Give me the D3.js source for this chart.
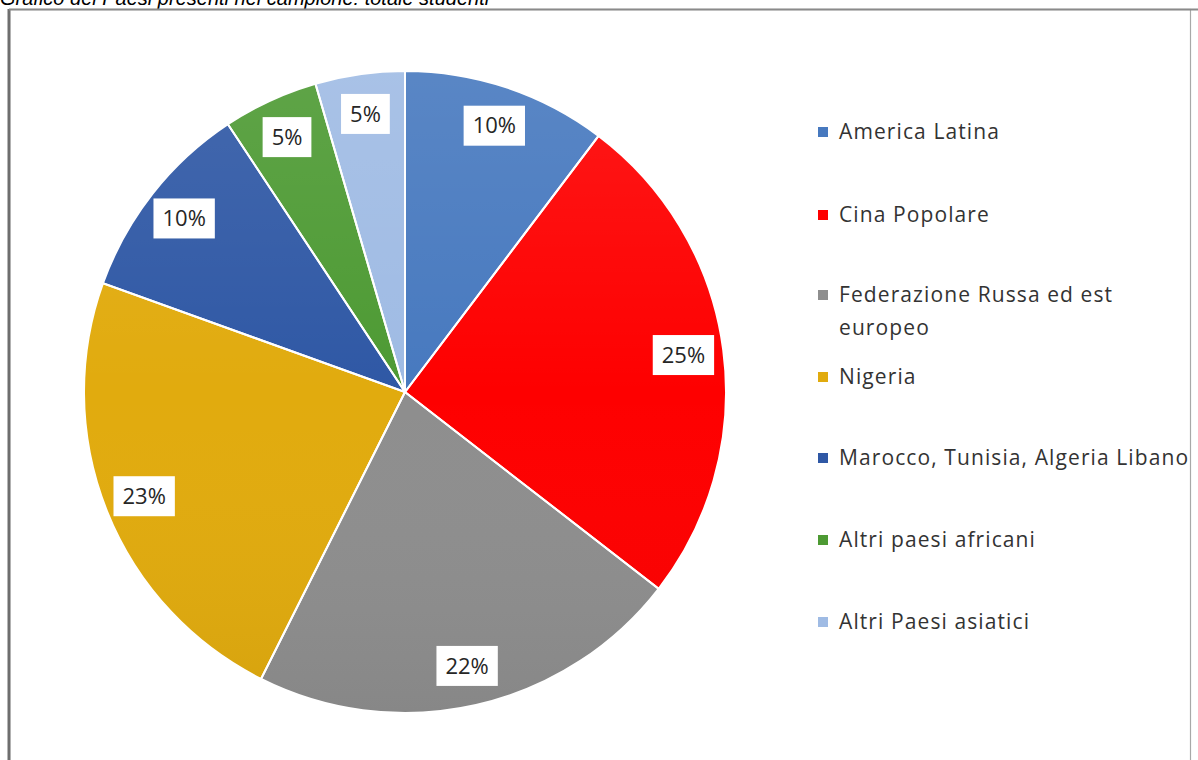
<!DOCTYPE html>
<html>
<head>
<meta charset="utf-8">
<script src="https://cdn.jsdelivr.net/npm/d3@7"></script>
<style>
  html, body { margin: 0; padding: 0; background: #ffffff; }
  svg { display: block; }
</style>
</head>
<body>
<svg id="chart" width="1198" height="760"></svg>
<script>
// ---- data ----
const categories = [
  "America Latina",
  "Cina Popolare",
  "Federazione Russa ed est europeo",
  "Nigeria",
  "Marocco, Tunisia, Algeria Libano",
  "Altri paesi africani",
  "Altri Paesi asiatici"
];
const values = [10.3, 25.2, 21.9, 23.1, 10.2, 4.8, 4.5];
const legendLines = [
  ["America Latina"],
  ["Cina Popolare"],
  ["Federazione Russa ed est", "europeo"],
  ["Nigeria"],
  ["Marocco, Tunisia, Algeria Libano"],
  ["Altri paesi africani"],
  ["Altri Paesi asiatici"]
];
const captionText = "Grafico dei Paesi presenti nel campione: totale studenti";

// ---- styles ----
const colors = ["#4779bf", "#fe0000", "#8e8e8e", "#e1ab0e", "#2f58a5", "#4d9a33", "#9fbbe4"];

const svg = d3.select("#chart");
const W = 1198, H = 760;

// clipped caption at top (partly outside the picture, as in the reference)
svg.append("text")
  .attr("x", 0).attr("y", 5)
  .attr("font-family", "Liberation Sans, sans-serif")
  .attr("font-style", "italic")
  .attr("font-size", 20)
  .attr("fill", "#000")
  .text(captionText);

// chart frame
svg.append("rect")
  .attr("x", 9.5).attr("y", 9.5)
  .attr("width", 1181).attr("height", 780)
  .attr("fill", "#ffffff")
  .attr("stroke", "#a8a8a8").attr("stroke-width", 1.2);
svg.append("line")
  .attr("x1", 9).attr("x2", 9).attr("y1", 9).attr("y2", H)
  .attr("stroke", "#6e6e6e").attr("stroke-width", 3);
svg.append("line")
  .attr("x1", 9).attr("x2", W).attr("y1", 9.5).attr("y2", 9.5)
  .attr("stroke", "#8a8a8a").attr("stroke-width", 2);

// pie
const cx = 405, cy = 392, R = 321;
const pie = d3.pie().sort(null).value(d => d)(values);
const arc = d3.arc().innerRadius(0).outerRadius(R);
const labelArc = d3.arc().innerRadius(R * 0.875).outerRadius(R * 0.875);

const defs = svg.append("defs");
const grad = defs.append("linearGradient").attr("id", "shade")
  .attr("x1", 0).attr("y1", 0).attr("x2", 0).attr("y2", 1);
grad.append("stop").attr("offset", "0%").attr("stop-color", "#ffffff").attr("stop-opacity", 0.10);
grad.append("stop").attr("offset", "50%").attr("stop-color", "#ffffff").attr("stop-opacity", 0.0);
grad.append("stop").attr("offset", "100%").attr("stop-color", "#000000").attr("stop-opacity", 0.05);

const g = svg.append("g").attr("transform", `translate(${cx},${cy})`);
g.selectAll("path.slice")
  .data(pie)
  .join("path")
  .attr("class", "slice")
  .attr("d", arc)
  .attr("fill", (d, i) => colors[i]);

g.append("circle").attr("r", R).attr("fill", "url(#shade)");

g.selectAll("path.border")
  .data(pie)
  .join("path")
  .attr("class", "border")
  .attr("d", arc)
  .attr("fill", "none")
  .attr("stroke", "#ffffff")
  .attr("stroke-width", 2);

// data labels
const fmt = v => Math.round(v) + "%";
const lbl = g.selectAll("g.lbl")
  .data(pie)
  .join("g")
  .attr("class", "lbl")
  .attr("transform", d => `translate(${labelArc.centroid(d)})`);
lbl.each(function(d) {
  const sel = d3.select(this);
  const t = sel.append("text")
    .attr("text-anchor", "middle")
    .attr("dy", "0.35em")
    .attr("font-family", "Open Sans, sans-serif")
    .attr("font-size", 22)
    .attr("fill", "#262626")
    .text(fmt(d.data));
  const w = t.node().getComputedTextLength();
  sel.insert("rect", "text")
    .attr("x", -w / 2 - 9).attr("y", -20)
    .attr("width", w + 18).attr("height", 40)
    .attr("fill", "#ffffff");
});

// legend
const rowY = [132, 215, 295, 377, 458, 540, 622];
const legend = svg.append("g");
categories.forEach((c, i) => {
  const row = legend.append("g").attr("transform", `translate(818,${rowY[i]})`);
  row.append("rect").attr("x", 0).attr("y", -5).attr("width", 10).attr("height", 10)
    .attr("fill", colors[i]);
  legendLines[i].forEach((ln, j) => {
    row.append("text")
      .attr("x", 21).attr("y", j * 33)
      .attr("dy", "0.35em")
      .attr("font-family", "Open Sans, sans-serif")
      .attr("font-size", 21)
      .attr("letter-spacing", 1.1)
      .attr("fill", "#333333")
      .text(ln);
  });
});
</script>
</body>
</html>
